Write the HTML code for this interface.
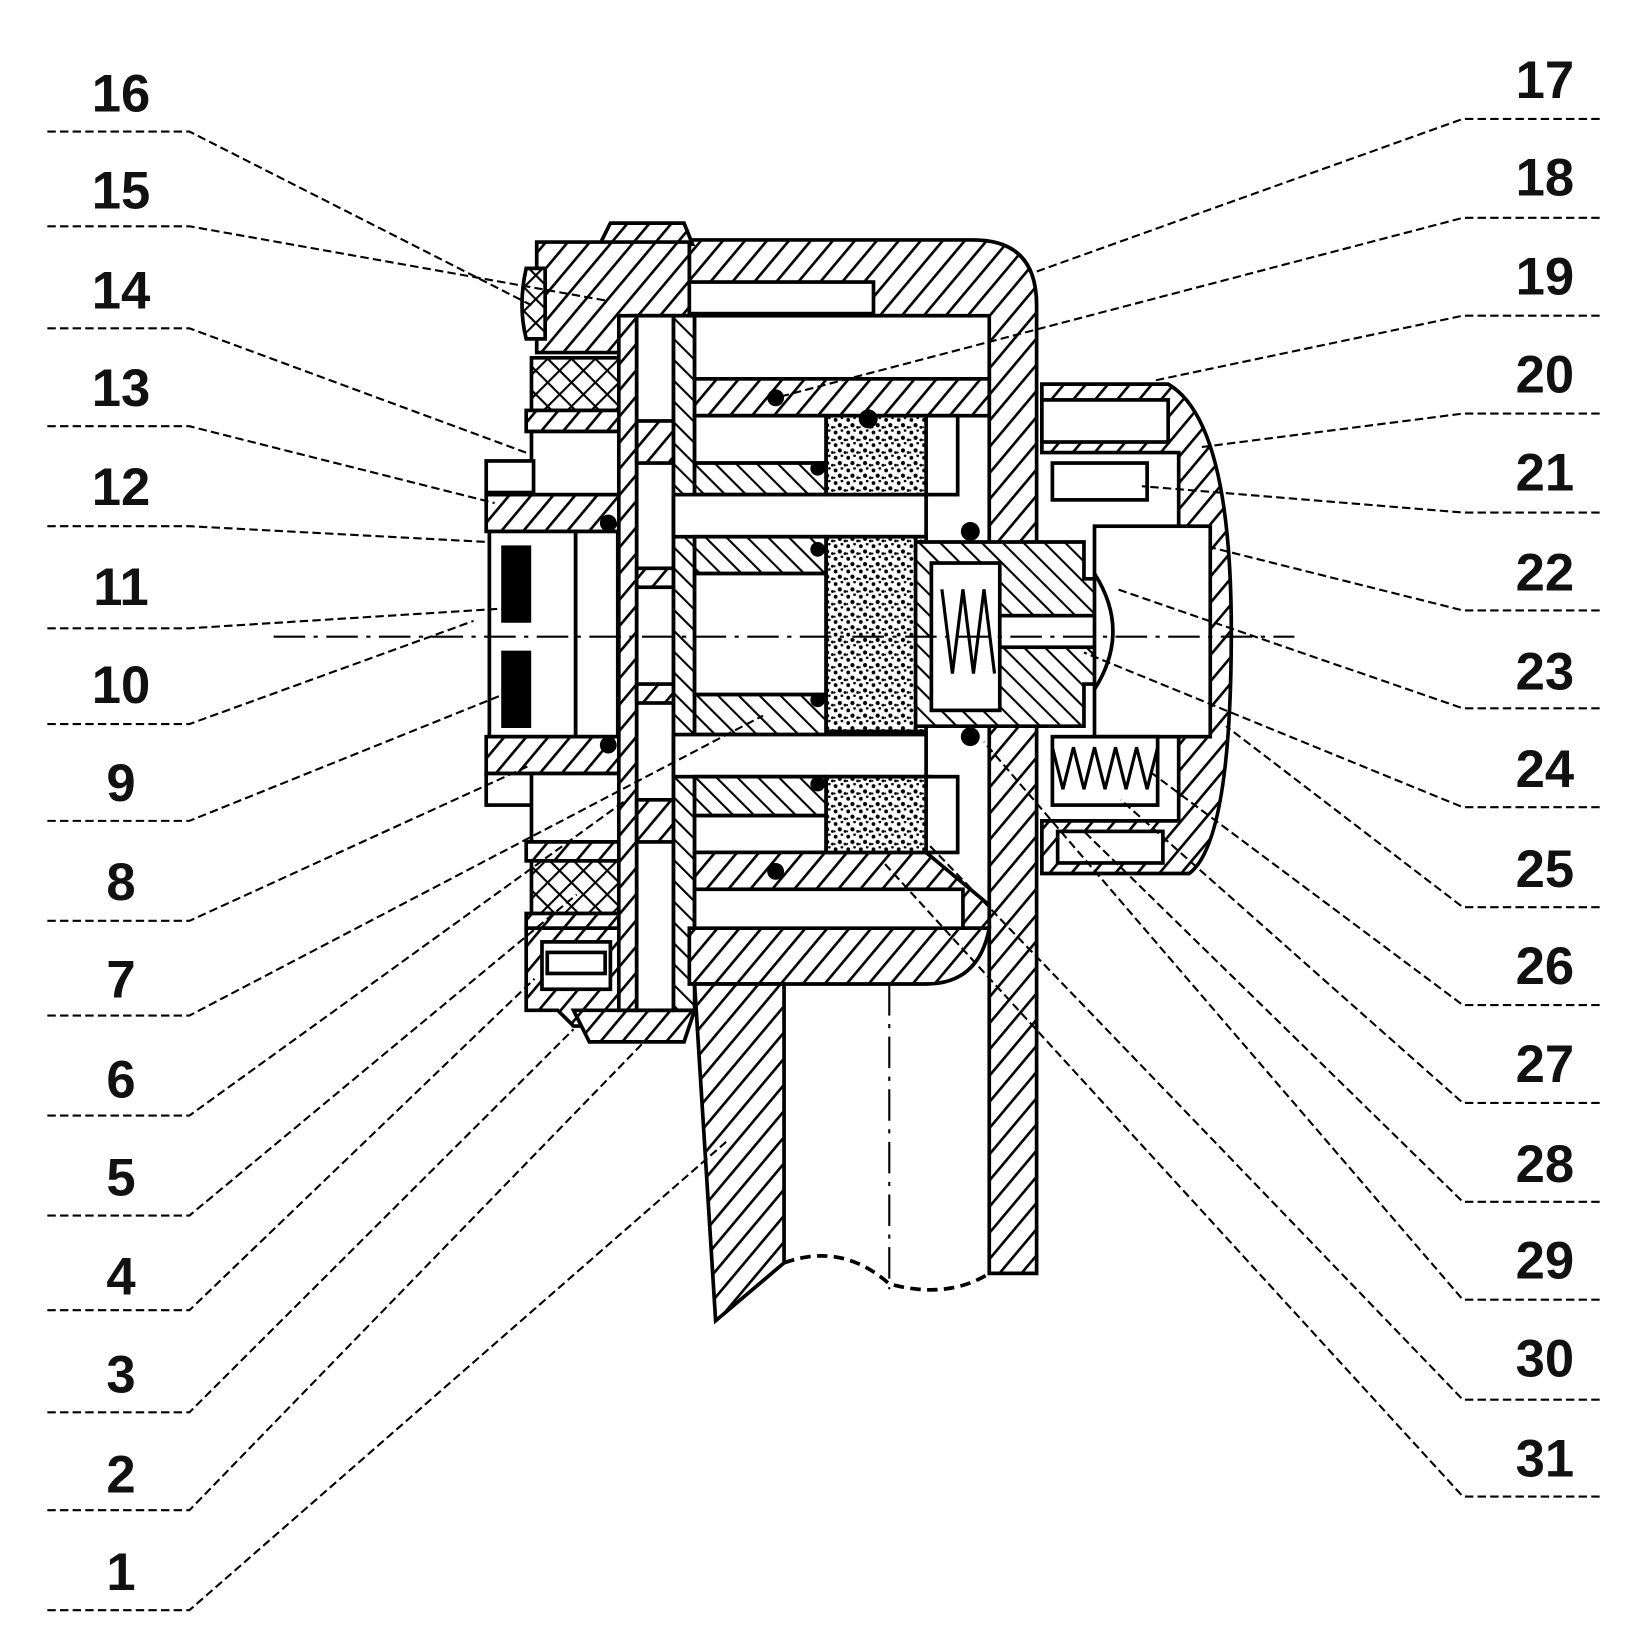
<!DOCTYPE html>
<html><head><meta charset="utf-8"><style>
html,body{margin:0;padding:0;background:#fff}
svg{display:block}
text{font-family:"Liberation Sans",sans-serif;font-size:50px;font-weight:bold;fill:#111}
</style></head><body>
<svg width="1650" height="1651" viewBox="0 0 1650 1651" xmlns="http://www.w3.org/2000/svg">
<defs>
<pattern id="h" width="16" height="16" patternUnits="userSpaceOnUse" patternTransform="rotate(40)">
<rect width="16" height="16" fill="#fff"/><line x1="0" y1="0" x2="0" y2="16" stroke="#000" stroke-width="5"/></pattern>
<pattern id="h2" width="14" height="14" patternUnits="userSpaceOnUse" patternTransform="rotate(-45)">
<rect width="14" height="14" fill="#fff"/><line x1="0" y1="0" x2="0" y2="14" stroke="#000" stroke-width="4"/></pattern>
<pattern id="x" width="16" height="16" patternUnits="userSpaceOnUse" patternTransform="rotate(45)">
<rect width="16" height="16" fill="#fff"/><line x1="0" y1="0" x2="0" y2="16" stroke="#000" stroke-width="4"/><line x1="0" y1="0" x2="16" y2="0" stroke="#000" stroke-width="4"/></pattern>
<pattern id="g" width="12" height="12" patternUnits="userSpaceOnUse">
<rect width="12" height="12" fill="#fff"/><circle cx="2" cy="3" r="1.8"/><circle cx="8" cy="1" r="1.3"/><circle cx="6" cy="8" r="2"/><circle cx="11" cy="10" r="1.4"/><circle cx="1" cy="10" r="1"/></pattern>
</defs>
<g transform="scale(1.0524)">
<g stroke="#000" stroke-width="3.5" fill="url(#h)">
<path d="M655 228 L925 228 Q985 228 985 290 L985 1210 L940 1210 L940 345 Q940 300 900 300 L655 300 Z"/>
<rect x="520" y="268" width="310" height="30" fill="#fff"/>
<path d="M570 232 L580 212 L650 212 L658 232 Z"/>
<path d="M510 230 L655 230 L655 300 L600 300 L600 335 L510 335 Z"/>
<path d="M500 255 Q492 290 500 322 L518 322 L518 255 Z" fill="url(#x)"/>
<rect x="505" y="340" width="85" height="50" fill="url(#x)"/>
<rect x="500" y="390" width="95" height="20"/>
<rect x="505" y="410" width="85" height="65" fill="#fff"/>
<rect x="462" y="438" width="45" height="30" fill="#fff"/>
<path d="M462 470 L600 470 L600 505 L462 505 Z"/>
<rect x="465" y="505" width="82" height="195" fill="#fff"/>
<rect x="478" y="520" width="25" height="70" fill="#000"/>
<rect x="478" y="620" width="25" height="70" fill="#000"/>
<rect x="547" y="505" width="40" height="195" fill="#fff"/>
<path d="M462 700 L600 700 L600 735 L462 735 Z"/>
<rect x="462" y="735" width="45" height="30" fill="#fff"/>
<rect x="505" y="735" width="85" height="65" fill="#fff"/>
<rect x="500" y="800" width="95" height="18"/>
<rect x="505" y="818" width="85" height="50" fill="url(#x)"/>
<rect x="500" y="868" width="95" height="14"/>
<path d="M500 882 L600 882 L600 975 L545 975 L530 960 L500 960 Z"/>
<rect x="515" y="895" width="65" height="45" fill="#fff"/>
<rect x="520" y="905" width="55" height="20" fill="#fff"/>
<path d="M545 960 L660 960 L650 990 L560 990 Z"/>
<rect x="588" y="300" width="17" height="660"/>
<rect x="605" y="300" width="35" height="660" fill="#fff"/>
<rect x="605" y="400" width="35" height="40" />
<rect x="605" y="540" width="35" height="18"/>
<rect x="605" y="650" width="35" height="18"/>
<rect x="605" y="760" width="35" height="40"/>
<rect x="640" y="300" width="20" height="660" fill="url(#h2)"/>
<rect x="660" y="300" width="280" height="60" fill="#fff"/>
<rect x="660" y="360" width="280" height="35"/>
<rect x="660" y="395" width="125" height="45" fill="#fff"/>
<rect x="660" y="440" width="125" height="30" fill="url(#h2)"/>
<rect x="640" y="470" width="240" height="40" fill="#fff"/>
<rect x="660" y="510" width="125" height="35" fill="url(#h2)"/>
<rect x="660" y="545" width="125" height="115" fill="#fff"/>
<rect x="660" y="660" width="125" height="38" fill="url(#h2)"/>
<rect x="640" y="698" width="240" height="40" fill="#fff"/>
<rect x="660" y="738" width="125" height="37" fill="url(#h2)"/>
<rect x="660" y="775" width="125" height="35" fill="#fff"/>
<path d="M660 810 L880 810 L940 860 L940 882 L660 882 Z"/>
<rect x="660" y="845" width="255" height="40" fill="#fff"/>
<path d="M655 882 L940 882 Q930 935 880 935 L655 935 Z"/>
<rect x="785" y="395" width="100" height="75" fill="url(#g)"/>
<rect x="785" y="510" width="95" height="185" fill="url(#g)"/>
<rect x="785" y="738" width="100" height="72" fill="url(#g)"/>
<rect x="880" y="395" width="30" height="75" fill="#fff"/>
<rect x="880" y="738" width="30" height="72" fill="#fff"/>
<path d="M870 515 L1030 515 L1030 550 L1060 550 L1060 650 L1030 650 L1030 690 L870 690 Z" fill="url(#h2)"/>
<rect x="885" y="535" width="65" height="140" fill="#fff"/>
<rect x="950" y="585" width="100" height="30" fill="#fff"/>
<polyline points="895,560 905,640 915,560 925,640 935,560 945,640" fill="none" stroke-width="3"/>
<path d="M990 365 L1110 365 Q1170 400 1170 600 Q1170 800 1130 830 L990 830 L990 780 L1120 780 L1120 430 L990 430 Z"/>
<rect x="990" y="380" width="120" height="40" fill="#fff"/>
<rect x="1000" y="440" width="90" height="35" fill="#fff"/>
<rect x="1040" y="500" width="110" height="200" fill="#fff"/>
<rect x="1000" y="700" width="100" height="65" fill="#fff"/>
<rect x="1005" y="790" width="100" height="30" fill="#fff"/>
<polyline points="1000,710 1010,750 1020,710 1030,750 1040,710 1050,750 1060,710 1070,750 1080,710 1090,750 1100,710" fill="none" stroke-width="3"/>
<path d="M1040 545 Q1075 600 1040 655" fill="none"/>
<path d="M660 935 L745 935 L745 1200 L680 1255 Z"/>
<path d="M745 1200 Q800 1180 845 1220 Q900 1235 940 1210" fill="none" stroke-dasharray="10 6"/>
</g>
<g fill="#000"><circle cx="737" cy="378" r="8"/><circle cx="777" cy="445" r="7"/><circle cx="777" cy="522" r="7"/><circle cx="777" cy="665" r="7"/><circle cx="777" cy="745" r="7"/><circle cx="737" cy="828" r="8"/><circle cx="578" cy="497" r="8"/><circle cx="578" cy="708" r="8"/><circle cx="825" cy="398" r="9"/><circle cx="922" cy="505" r="9"/><circle cx="922" cy="700" r="9"/></g>
<g stroke="#000" stroke-width="2" stroke-dasharray="30 8 4 8" fill="none">
<line x1="260" y1="605" x2="1230" y2="605"/>
<line x1="845" y1="935" x2="845" y2="1225"/>
</g>
<g stroke="#000" stroke-width="2" stroke-dasharray="8 4" fill="none">
<polyline points="45,125 180,125 505,290"/>
<polyline points="45,215 180,215 578,286"/>
<polyline points="45,312 180,312 505,432"/>
<polyline points="45,405 180,405 470,478"/>
<polyline points="45,500 180,500 463,515"/>
<polyline points="45,597 180,597 482,578"/>
<polyline points="45,688 180,688 450,590"/>
<polyline points="45,780 180,780 478,660"/>
<polyline points="45,875 180,875 502,728"/>
<polyline points="45,965 180,965 725,680"/>
<polyline points="45,1060 180,1060 598,758"/>
<polyline points="45,1155 180,1155 548,850"/>
<polyline points="45,1245 180,1245 508,930"/>
<polyline points="45,1342 180,1342 545,978"/>
<polyline points="45,1435 180,1435 612,990"/>
<polyline points="45,1530 180,1530 690,1085"/>
<polyline points="1520,113 1390,113 985,258"/>
<polyline points="1520,207 1390,207 737,378"/>
<polyline points="1520,300 1390,300 1095,362"/>
<polyline points="1520,393 1390,393 1140,425"/>
<polyline points="1520,487 1390,487 1085,462"/>
<polyline points="1520,580 1390,580 1150,520"/>
<polyline points="1520,673 1390,673 1062,560"/>
<polyline points="1520,767 1390,767 1030,620"/>
<polyline points="1520,862 1390,862 1165,690"/>
<polyline points="1520,955 1390,955 1095,735"/>
<polyline points="1520,1048 1390,1048 1065,760"/>
<polyline points="1520,1142 1390,1142 1030,790"/>
<polyline points="1520,1235 1390,1235 935,705"/>
<polyline points="1520,1330 1390,1330 880,800"/>
<polyline points="1520,1422 1390,1422 840,820"/>
</g>
<g text-anchor="middle">
<text x="115" y="106">16</text><text x="115" y="198">15</text><text x="115" y="293">14</text><text x="115" y="386">13</text>
<text x="115" y="480">12</text><text x="115" y="575">11</text><text x="115" y="668">10</text><text x="115" y="761">9</text>
<text x="115" y="855">8</text><text x="115" y="948">7</text><text x="115" y="1043">6</text><text x="115" y="1136">5</text>
<text x="115" y="1230">4</text><text x="115" y="1323">3</text><text x="115" y="1418">2</text><text x="115" y="1511">1</text>
<text x="1468" y="93">17</text><text x="1468" y="186">18</text><text x="1468" y="280">19</text><text x="1468" y="373">20</text>
<text x="1468" y="466">21</text><text x="1468" y="561">22</text><text x="1468" y="655">23</text><text x="1468" y="748">24</text>
<text x="1468" y="843">25</text><text x="1468" y="935">26</text><text x="1468" y="1028">27</text><text x="1468" y="1123">28</text>
<text x="1468" y="1215">29</text><text x="1468" y="1308">30</text><text x="1468" y="1403">31</text>
</g>
</g>
</svg>
</body></html>
